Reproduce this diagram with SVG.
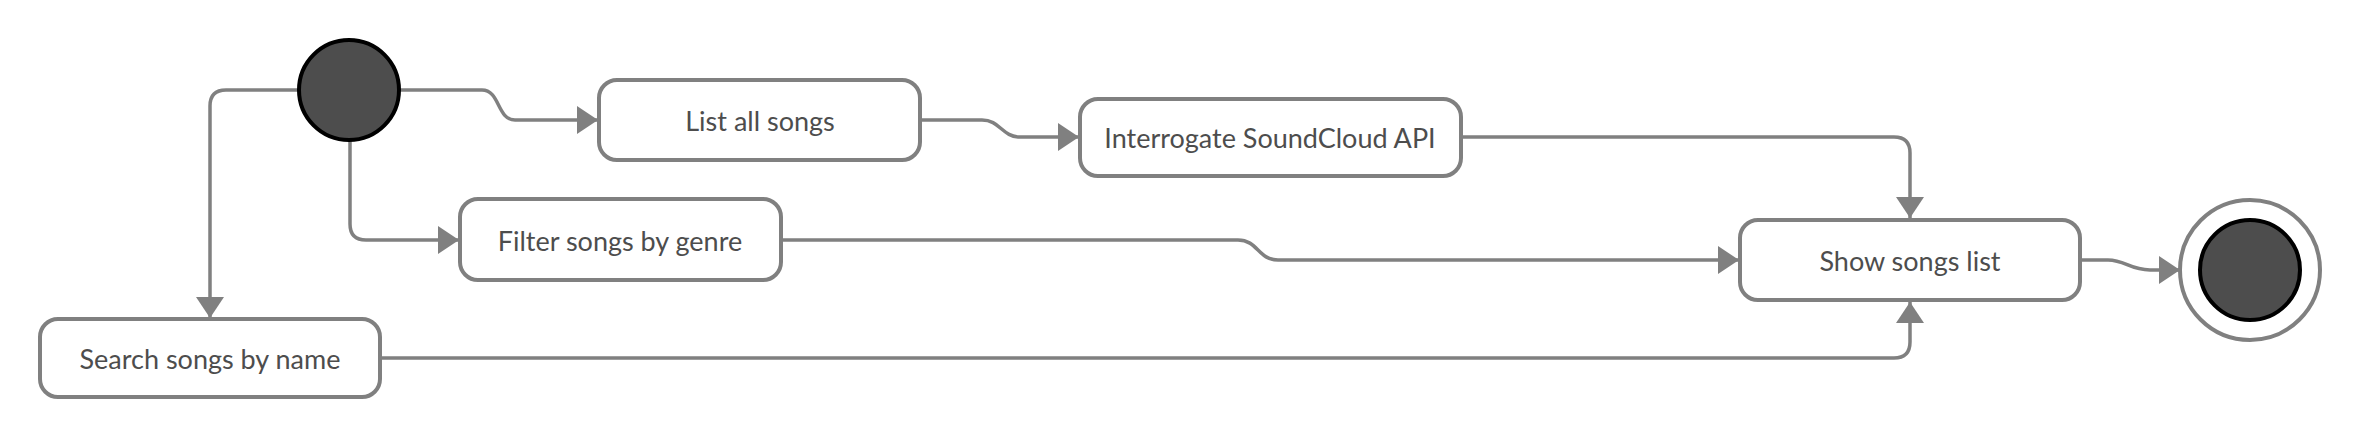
<svg xmlns="http://www.w3.org/2000/svg" width="2360" height="436" viewBox="0 0 2360 436">
<style>
.node rect{fill:#ffffff;stroke:#808080;stroke-width:4}
.node text{font-family:Lato,"Open Sans","Liberation Sans",sans-serif;font-size:27px;fill:#4d4d4d;text-anchor:middle;dominant-baseline:central}
.conn path{fill:none;stroke:#808080;stroke-width:3.5}
.dark{fill:#4d4d4d;stroke:#000000;stroke-width:4}
</style>
<defs>
<marker id="arr" markerUnits="userSpaceOnUse" markerWidth="24" markerHeight="28" refX="21" refY="14" orient="auto">
<path d="M0,0 L21,14 L0,28 z" fill="#808080"/>
</marker>
</defs>
<rect width="2360" height="436" fill="#ffffff"/>
<g class="conn">
<path d="M 399 90 H 482 C 500 90, 497 120, 515 120 H 598" marker-end="url(#arr)"/>
<path d="M 300 90 H 226 Q 210 90 210 106 V 318" marker-end="url(#arr)"/>
<path d="M 350 140 V 224 Q 350 240 366 240 H 459" marker-end="url(#arr)"/>
<path d="M 920 120 H 982 C 1000 120, 1002 137, 1020 137 H 1079" marker-end="url(#arr)"/>
<path d="M 1461 137 H 1894 Q 1910 137 1910 153 V 218" marker-end="url(#arr)"/>
<path d="M 781 240 H 1238 C 1258 240, 1258 260, 1278 260 H 1739" marker-end="url(#arr)"/>
<path d="M 380 358 H 1894 Q 1910 358 1910 342 V 302" marker-end="url(#arr)"/>
<path d="M 2080 260 H 2108 C 2125 260, 2130 270, 2150 270 H 2180" marker-end="url(#arr)"/>
</g>
<g id="start" class="node">
<circle cx="349" cy="90" r="50" class="dark"/>
</g>
<g id="list-all" class="node">
<rect x="599" y="80" width="321" height="80" rx="18"/>
<text x="760" y="120">List all songs</text>
</g>
<g id="interrogate" class="node">
<rect x="1080" y="99" width="381" height="77" rx="18"/>
<text x="1270" y="137.5">Interrogate SoundCloud API</text>
</g>
<g id="filter" class="node">
<rect x="460" y="199" width="321" height="81" rx="18"/>
<text x="620" y="240">Filter songs by genre</text>
</g>
<g id="search" class="node">
<rect x="40" y="319" width="340" height="78" rx="18"/>
<text x="210" y="358">Search songs by name</text>
</g>
<g id="show" class="node">
<rect x="1740" y="220" width="340" height="80" rx="18"/>
<text x="1910" y="260">Show songs list</text>
</g>
<g id="end" class="node">
<circle cx="2250" cy="270" r="70" fill="#ffffff" stroke="#808080" stroke-width="4"/>
<circle cx="2250" cy="270" r="50" class="dark"/>
</g>
</svg>
